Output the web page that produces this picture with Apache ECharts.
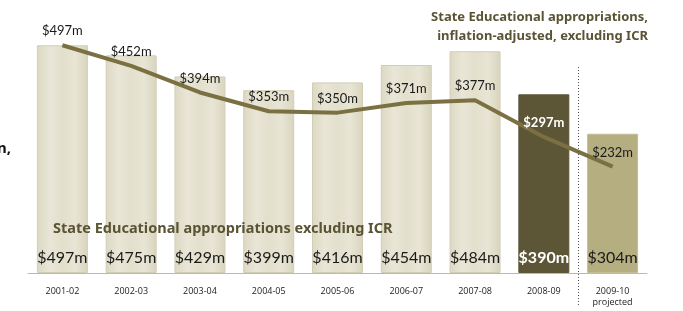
<!DOCTYPE html>
<html>
<head>
<meta charset="utf-8">
<script src="https://cdn.jsdelivr.net/npm/echarts@6/dist/echarts.min.js"></script>
<style>
  html, body { margin: 0; padding: 0; background: #fff; }
  #chart { width: 683px; height: 311px; }
</style>
</head>
<body>
<div id="chart"></div>
<script>
// fiscal years
const years = ['2001-02', '2002-03', '2003-04', '2004-05', '2005-06', '2006-07', '2007-08', '2008-09', '2009-10\nprojected'];
// appropriations excluding ICR ($m)
const nominal = [497, 475, 429, 399, 416, 454, 484, 390, 304];
// inflation-adjusted ($m)
const adjusted = [497, 452, 394, 353, 350, 371, 377, 297, 232];

const chart = echarts.init(document.getElementById('chart'));

const paleBar = new echarts.graphic.LinearGradient(0, 0, 1, 0, [
  { offset: 0, color: '#dcd8c2' },
  { offset: 0.25, color: '#e9e6d7' },
  { offset: 0.5, color: '#e2dfcc' },
  { offset: 0.75, color: '#e8e5d5' },
  { offset: 1, color: '#d8d4bd' }
]);

const barData = nominal.map((v, i) => {
  if (i === 7) {
    return { value: v, itemStyle: { color: '#5d5636', borderColor: '#5d5636' },
      label: { color: '#fff', fontWeight: 'bold' } };
  }
  if (i === 8) {
    return { value: v, itemStyle: { color: '#b5ae80', borderColor: '#c4bd93' } };
  }
  return { value: v };
});

const lineData = adjusted.map((v, i) => {
  if (i === 7) return { value: v, label: { color: '#fff', fontWeight: 'bold' } };
  return v;
});

const titleFont = '"Noto Sans", sans-serif';

const option = {
  animation: false,
  textStyle: { fontFamily: 'Lato, "Open Sans", sans-serif' },
  grid: { left: 28, right: 36, top: 21, bottom: 38 },
  xAxis: {
    type: 'category',
    data: years,
    axisLine: { lineStyle: { color: '#b8b8b8' } },
    axisTick: { show: false },
    axisLabel: { fontSize: 9, color: '#222', margin: 13, lineHeight: 11, fontFamily: '"Open Sans", sans-serif' }
  },
  yAxis: { type: 'value', min: 0, max: 550, show: false, splitLine: { show: false } },
  series: [
    {
      type: 'bar',
      data: barData,
      barWidth: 51,
      itemStyle: { color: paleBar, borderColor: '#d2ceb6', borderWidth: 1 },
      label: {
        show: true, position: 'insideBottom', distance: 7,
        fontSize: 16, color: '#1a1a1a',
        formatter: p => '$' + p.value + 'm'
      },
      z: 2
    },
    {
      type: 'line',
      data: lineData,
      symbol: 'circle',
      symbolSize: 1,
      showSymbol: true,
      itemStyle: { color: 'rgba(0,0,0,0)' },
      lineStyle: { color: '#7a7042', width: 4 },
      label: {
        show: true, position: 'top', distance: 7,
        fontSize: 13, color: '#1a1a1a',
        formatter: p => '$' + p.value + 'm'
      },
      z: 5
    }
  ]
};

chart.setOption(option);

// dotted divider between actual and projected years, plus captions
const xa = chart.convertToPixel({ xAxisIndex: 0 }, years[7]);
const xb = chart.convertToPixel({ xAxisIndex: 0 }, years[8]);
const xd = Math.round((xa + xb) / 2) + 0.5;
chart.setOption({
  graphic: [
    { type: 'text', x: 648, y: 8, style: { text: 'State Educational appropriations,\ninflation-adjusted, excluding ICR', align: 'right', fontSize: 13, lineHeight: 19, fontWeight: 'bold', fill: '#5a5334', fontFamily: titleFont } },
    { type: 'text', x: 53, y: 221, style: { text: 'State Educational appropriations excluding ICR', fontSize: 14.5, fontWeight: 'bold', fill: '#5a5334', fontFamily: titleFont }, z: 20 },
    { type: 'text', x: -3, y: 141, style: { text: 'n,', fontSize: 15, fontWeight: 'bold', fill: '#111', fontFamily: titleFont } },
    { type: 'line', shape: { x1: xd, y1: 67, x2: xd, y2: 307 }, style: { stroke: '#555', lineWidth: 1, lineDash: [1, 2] }, z: 10 }
  ]
});
</script>
</body>
</html>
